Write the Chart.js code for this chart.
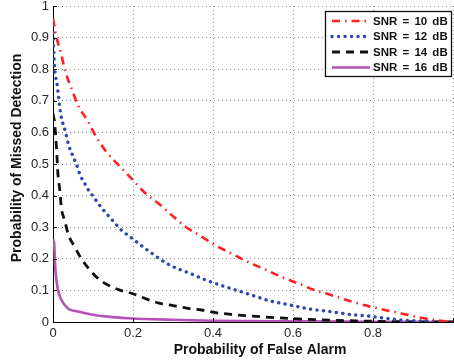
<!DOCTYPE html>
<html>
<head>
<meta charset="utf-8">
<script src="https://cdn.jsdelivr.net/npm/chart.js@4.4.1/dist/chart.umd.min.js"></script>
<style>
  html, body { margin: 0; padding: 0; background: #fff; }
  #wrap { width: 454px; height: 363px; }
</style>
</head>
<body>
<div id="wrap"><canvas id="roc" width="454" height="363"></canvas></div>
<script>
// Receiver operating curves: missed detection vs. false alarm for four SNR values
const seriesLabels = ['SNR = 10 dB', 'SNR = 12 dB', 'SNR = 14 dB', 'SNR = 16 dB'];

const pfa10 = [0, 0.0085, 0.021, 0.031, 0.046, 0.0625, 0.0875, 0.108, 0.133, 0.158, 0.2, 0.227, 0.263, 0.296, 0.333, 0.368, 0.408, 0.446, 0.483, 0.529, 0.571, 0.613, 0.654, 0.696, 0.74, 0.783, 0.83, 0.871, 0.917, 0.958, 1];
const pmd10 = [0.96, 0.903, 0.845, 0.792, 0.74, 0.687, 0.634, 0.586, 0.539, 0.504, 0.449, 0.412, 0.376, 0.339, 0.30, 0.273, 0.241, 0.217, 0.193, 0.167, 0.143, 0.122, 0.101, 0.085, 0.067, 0.052, 0.038, 0.027, 0.014, 0.006, 0];

const pfa12 = [0, 0.004, 0.011, 0.019, 0.031, 0.039, 0.05, 0.06, 0.069, 0.079, 0.09, 0.102, 0.1125, 0.1225, 0.133, 0.15, 0.161, 0.171, 0.192, 0.242, 0.292, 0.342, 0.392, 0.442, 0.492, 0.542, 0.592, 0.642, 0.692, 0.742, 0.788, 0.817, 0.875, 0.93, 1];
const pmd12 = [0.915, 0.808, 0.745, 0.66, 0.602, 0.56, 0.525, 0.494, 0.462, 0.439, 0.415, 0.395, 0.376, 0.36, 0.344, 0.32, 0.304, 0.291, 0.27, 0.222, 0.18, 0.154, 0.128, 0.107, 0.087, 0.067, 0.054, 0.041, 0.033, 0.024, 0.019, 0.014, 0.006, 0.003, 0];

const pfa14 = [0, 0.004, 0.0085, 0.0125, 0.017, 0.021, 0.029, 0.0375, 0.054, 0.071, 0.092, 0.1125, 0.1375, 0.167, 0.196, 0.229, 0.267, 0.3, 0.338, 0.371, 0.41, 0.446, 0.483, 0.558, 0.633, 0.708, 0.775, 0.85, 1];
const pmd14 = [0.66, 0.629, 0.555, 0.465, 0.418, 0.36, 0.323, 0.28, 0.238, 0.2, 0.165, 0.138, 0.117, 0.101, 0.091, 0.075, 0.059, 0.052, 0.043, 0.038, 0.029, 0.024, 0.02, 0.0136, 0.0085, 0.005, 0.003, 0.001, 0];

const pfa16 = [0, 0.0025, 0.006, 0.0125, 0.021, 0.0375, 0.0625, 0.096, 0.1375, 0.1875, 0.23, 0.3, 0.4, 0.6, 0.8, 1];
const pmd16 = [0.26, 0.254, 0.165, 0.101, 0.07, 0.043, 0.033, 0.024, 0.017, 0.012, 0.0095, 0.007, 0.004, 0.002, 0.001, 0];

const xTickValues = [0, 0.2, 0.4, 0.6, 0.8];
const xTitle = 'Probability of False Alarm';
const yTitle = 'Probability of Missed Detection';

const toPoints = (xs, ys) => xs.map((x, i) => ({ x, y: ys[i] }));

const FONT = '"Liberation Sans", Arial, Helvetica, sans-serif';

const datasets = [
  { label: seriesLabels[0], data: toPoints(pfa10, pmd10), borderColor: '#ff1f1f', borderWidth: 2.6, borderDash: [8, 5, 1.5, 5], borderCapStyle: 'butt' },
  { label: seriesLabels[1], data: toPoints(pfa12, pmd12), borderColor: '#2b48b0', borderWidth: 3.4, borderDash: [0.1, 6.4], borderCapStyle: 'round' },
  { label: seriesLabels[2], data: toPoints(pfa14, pmd14), borderColor: '#111111', borderWidth: 2.8, borderDash: [8, 6], borderCapStyle: 'butt' },
  { label: seriesLabels[3], data: toPoints(pfa16, pmd16), borderColor: '#b452b6', borderWidth: 2.6, borderDash: [], borderCapStyle: 'butt' }
].map(d => Object.assign(d, { fill: false, pointRadius: 0, cubicInterpolationMode: 'monotone' }));

// Axis titles, inward tick marks and the boxed legend
const decorations = {
  id: 'decorations',
  afterDraw(chart) {
    const ctx = chart.ctx;
    const { left, right, top, bottom } = chart.chartArea;
    const xs = chart.scales.x, ys = chart.scales.y;

    ctx.save();
    // inward tick marks
    ctx.strokeStyle = '#000';
    ctx.lineWidth = 1;
    ctx.beginPath();
    for (let v = 0; v <= 1.0001; v += 0.2) {
      const px = Math.round(xs.getPixelForValue(v)) + 0.5;
      ctx.moveTo(px, bottom); ctx.lineTo(px, bottom - 4);
    }
    for (let i = 0; i <= 10; i++) {
      const py = Math.round(ys.getPixelForValue(i / 10)) + 0.5;
      ctx.moveTo(left, py); ctx.lineTo(left + 4, py);
    }
    ctx.stroke();

    // axis titles
    ctx.fillStyle = '#111';
    ctx.font = 'bold 14px ' + FONT;
    ctx.textAlign = 'center';
    ctx.textBaseline = 'middle';
    ctx.fillText(xTitle, 260, 350);
    ctx.translate(17, 158);
    ctx.rotate(-Math.PI / 2);
    ctx.fillText(yTitle, 0, 0);
    ctx.restore();

    // legend box
    ctx.save();
    const bx = 325.5, by = 11.5, bw = 126, bh = 65;
    ctx.fillStyle = '#fff';
    ctx.fillRect(bx, by, bw, bh);
    ctx.strokeStyle = '#111';
    ctx.lineWidth = 1.3;
    ctx.strokeRect(bx, by, bw, bh);
    const rows = [21, 36.5, 52, 67.5];
    chart.data.datasets.forEach((ds, i) => {
      const y = rows[i];
      ctx.save();
      ctx.strokeStyle = ds.borderColor;
      ctx.lineWidth = ds.borderWidth;
      ctx.lineCap = ds.borderCapStyle;
      ctx.setLineDash(ds.borderDash);
      ctx.beginPath();
      ctx.moveTo(332, y);
      ctx.lineTo(370, y);
      ctx.stroke();
      ctx.restore();
      ctx.fillStyle = '#111';
      ctx.font = 'bold 11.5px ' + FONT;
      ctx.wordSpacing = '2px';
      ctx.textAlign = 'left';
      ctx.textBaseline = 'middle';
      ctx.fillText(ds.label, 373, y + 0.5);
    });
    ctx.restore();
  }
};

new Chart(document.getElementById('roc'), {
  type: 'line',
  data: { datasets },
  plugins: [decorations],
  options: {
    responsive: false,
    animation: false,
    devicePixelRatio: 1,
    layout: { padding: { top: 6, right: 1, bottom: 0, left: 0 } },
    plugins: { legend: { display: false }, tooltip: { enabled: false } },
    scales: {
      x: {
        type: 'linear',
        min: 0, max: 1,
        afterBuildTicks: s => { s.ticks = xTickValues.concat([1]).map(v => ({ value: v })); },
        ticks: {
          callback: v => (xTickValues.includes(Math.round(v * 10) / 10) ? String(Math.round(v * 10) / 10) : ''),
          color: '#262626', font: { family: FONT, size: 13 }, padding: 4, maxRotation: 0, autoSkip: false
        },
        grid: { color: '#8c8c8c', lineWidth: 1, drawTicks: false },
        border: { display: true, color: '#000', width: 1, dash: [1, 3] },
        afterFit: s => { s.height = 41; s.paddingLeft = 0; s.paddingRight = 0; }
      },
      y: {
        type: 'linear',
        min: 0, max: 1,
        ticks: {
          stepSize: 0.1,
          callback: v => String(Math.round(v * 10) / 10),
          color: '#262626', font: { family: FONT, size: 13 }, padding: 4
        },
        grid: { color: '#8c8c8c', lineWidth: 1, drawTicks: false },
        border: { display: true, color: '#000', width: 1, dash: [1, 3] },
        afterFit: s => { s.width = 53; s.paddingTop = 0; s.paddingBottom = 0; }
      }
    }
  }
});
</script>
</body>
</html>
